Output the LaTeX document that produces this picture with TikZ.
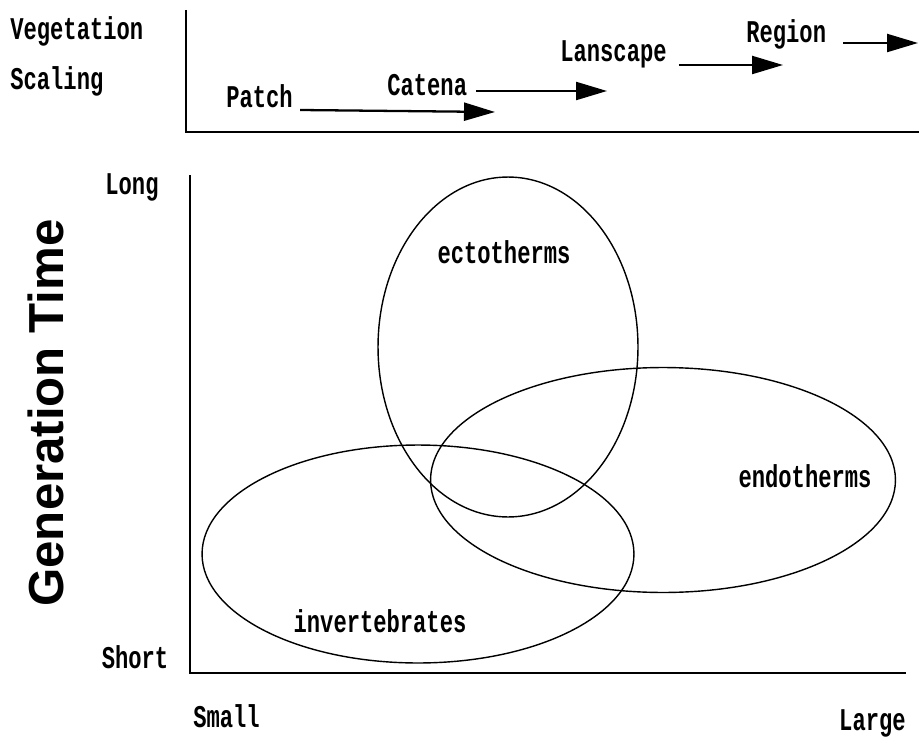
\documentclass[tikz,border=0pt]{standalone}
\usepackage{fontspec}
\usetikzlibrary{positioning,arrows.meta,shapes.geometric}
\newfontfamily\dotfont[FakeStretch=0.7]{Liberation Mono}
\newfontfamily\axisfont{Liberation Sans}
\tikzset{
  >={Triangle[length=0.62cm,width=0.36cm]},
}

\begin{document}
\begin{tikzpicture}[
  x=0.02cm, y=-0.02cm,
  lbl/.style={font=\dotfont\bfseries\fontsize{18}{18}\selectfont, inner sep=0pt},
  blob/.style={draw, ellipse, line width=0.8pt, inner sep=0pt},
  scalearrow/.style={line width=1.3pt},
  panelline/.style={line width=1.1pt},
  axisline/.style={line width=1.6pt}
]
\useasboundingbox (0,0) rectangle (919,740);

% vegetation scaling panel
\draw[panelline] (186,10) -- (186,132) -- (919,132);
\node[lbl, anchor=base west] (veg) at (10,40) {Vegetation};
\node[lbl, anchor=base west] (scal) at (10,90) {Scaling};

\node[lbl, anchor=base west] (patch) at (226,108) {Patch};
\node[lbl, anchor=base west] (catena) at (387,95) {Catena};
\node[lbl, anchor=base west] (lansc) at (560,62) {Lanscape};
\node[lbl, anchor=base west] (region) at (746,43) {Region};

\coordinate (patchend) at (495,112);
\coordinate (catenaend) at (607,91);
\coordinate (lanscend) at (783,65);
\coordinate (regionend) at (918,43);

\draw[scalearrow, ->] ([shift={(7,2)}]patch.base east) -- (patchend);
\draw[scalearrow, ->] ([shift={(9,-4)}]catena.base east) -- (catenaend);
\draw[scalearrow, ->] ([shift={(12,3)}]lansc.base east) -- (lanscend);
\draw[scalearrow, ->] ([shift={(17,0)}]region.base east) -- (regionend);

% main plot
\draw[axisline] (190,175) -- (190,673) -- (906,673);
\node[rotate=90, font=\axisfont\bfseries\fontsize{28}{28}\selectfont] (gentime) at (46,413) {Generation Time};
\node[lbl] (long) at (132,187) {Long};
\node[lbl, anchor=base] (short) at (135,668) {Short};
\node[lbl, anchor=base west] (small) at (193,727) {Small};
\node[lbl, anchor=base east] (large) at (906,730) {Large};

\node[blob, minimum width=5.2cm, minimum height=6.8cm] (ecto) at (508,347) {};
\node[blob, minimum width=9.3cm, minimum height=4.5cm] (endo) at (663,480) {};
\node[blob, minimum width=8.64cm, minimum height=4.36cm] (invert) at (418,554) {};

\node[lbl, anchor=base] (ectolbl) at (504,263) {ectotherms};
\node[lbl, anchor=base] (endolbl) at (805,487) {endotherms};
\node[lbl, anchor=base] (invlbl) at (380,632) {invertebrates};

\end{tikzpicture}
\end{document}
